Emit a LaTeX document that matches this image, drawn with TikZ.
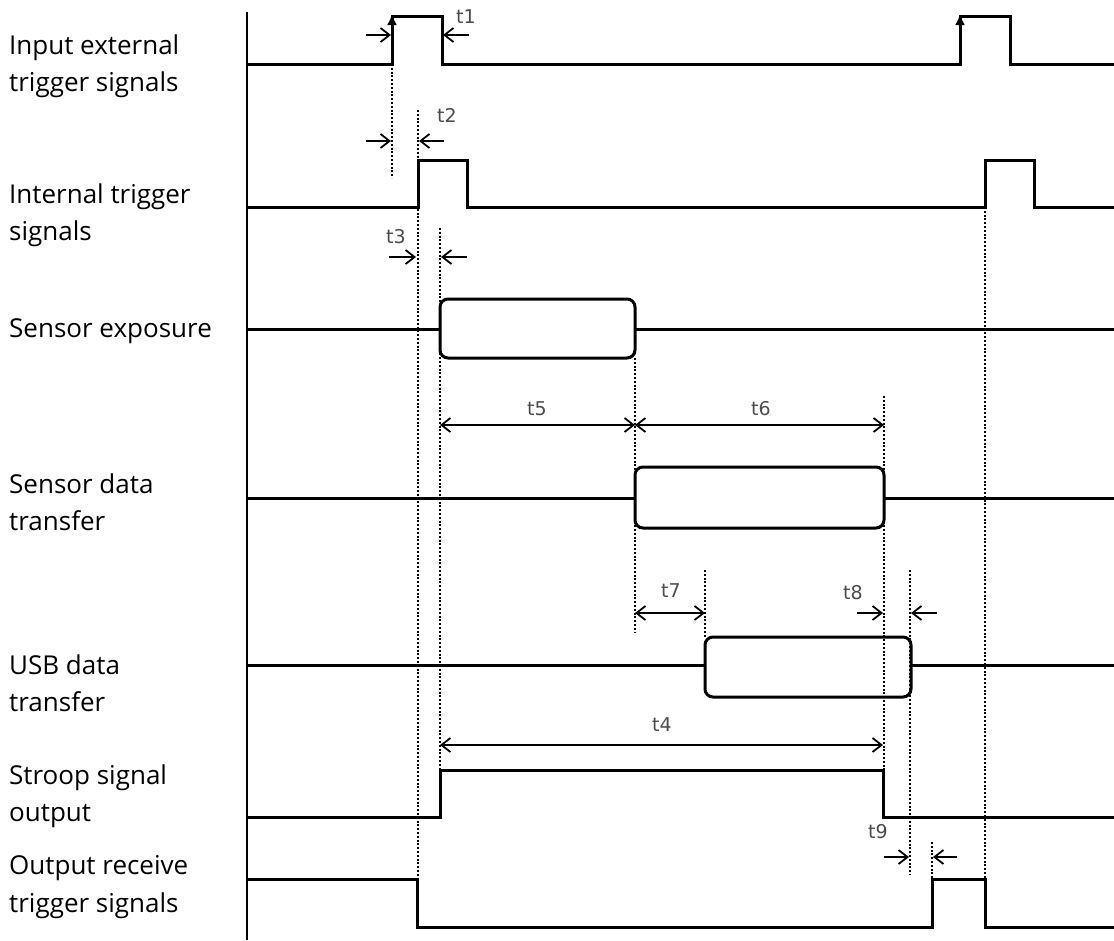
\documentclass[tikz,border=0pt]{standalone}
\usepackage{fontspec}
\setmainfont{Open Sans}
\newfontfamily\tfont{DejaVu Sans}
\usetikzlibrary{arrows.meta}
\begin{document}
\begin{tikzpicture}[x=1pt,y=-1pt,
  sig/.style={line width=3pt, line join=miter},
  boxsig/.style={line width=3pt, rounded corners=8pt},
  vdot/.style={line width=2.6pt, dash pattern=on 2pt off 1.8pt},
  tarrow/.style={line width=1.8pt, -{Straight Barb[length=9pt,width=14pt,line width=1.8pt]}},
  darrow/.style={line width=1.8pt, {Straight Barb[length=9pt,width=14pt,line width=1.8pt]}-{Straight Barb[length=9pt,width=14pt,line width=1.8pt]}},
  edgetip/.style={-{Latex[length=11pt,width=10pt]}, line width=3pt},
  siglabel/.style={anchor=west, align=left, inner sep=0pt, font=\fontsize{26}{37.5}\selectfont},
  tlabel/.style={inner sep=0pt, text=black!70, font=\tfont\fontsize{19}{22}\selectfont}]
\useasboundingbox (0,0) rectangle (1114,940);

% signal names
\node[siglabel] (l1) at (9,66) {Input external\\trigger signals};
\node[siglabel] (l2) at (9,215) {Internal trigger\\signals};
\node[siglabel] (l3) at (9,331) {Sensor exposure};
\node[siglabel] (l4) at (9,502) {Sensor data\\transfer};
\node[siglabel] (l5) at (9,683) {USB data\\transfer};
\node[siglabel] (l6) at (9,796) {Stroop signal\\output};
\node[siglabel] (l7) at (9,887) {Output receive\\trigger signals};

% axis
\draw[line width=2.8pt] (247,12) -- (247,940);

% dotted guides
\draw[vdot] (392,64) -- (392,178);
\draw[vdot] (418,110) -- (418,879);
\draw[vdot] (440,228) -- (440,770);
\draw[vdot] (635,358) -- (635,632);
\draw[vdot] (705,570) -- (705,637);
\draw[vdot] (884,396) -- (884,770);
\draw[vdot] (910,570) -- (910,875);
\draw[vdot] (932,842) -- (932,879);
\draw[vdot] (985,207) -- (985,879);

% 1 input external trigger
\draw[sig] (247,64) -- (392,64) -- (392,16) -- (442,16) -- (442,64) -- (960,64) -- (960,16) -- (1010,16) -- (1010,64) -- (1114,64);
\draw[edgetip] (392,34) -- (392,14);
\draw[edgetip] (960,34) -- (960,14);

% 2 internal trigger
\draw[sig] (247,207) -- (418,207) -- (418,160) -- (467,160) -- (467,207) -- (985,207) -- (985,160) -- (1034,160) -- (1034,207) -- (1114,207);

% 3 sensor exposure
\draw[sig] (247,329) -- (440,329);
\draw[boxsig] (440,299) rectangle (635,358);
\draw[sig] (635,329) -- (1114,329);

% 4 sensor data transfer
\draw[sig] (247,498) -- (635,498);
\draw[boxsig] (635,467) rectangle (884,528);
\draw[sig] (884,498) -- (1114,498);

% 5 USB data transfer
\draw[sig] (247,665) -- (705,665);
\draw[boxsig] (705,637) rectangle (911,697);
\draw[sig] (911,665) -- (1114,665);

% 6 stroop signal output
\draw[sig] (247,817) -- (440,817) -- (440,770) -- (883,770) -- (883,817) -- (1114,817);

% 7 output receive trigger
\draw[sig] (247,879) -- (417,879) -- (417,927) -- (932,927) -- (932,879) -- (985,879) -- (985,927) -- (1114,927);

% timing marks
\draw[tarrow] (366,35) -- (391,35);
\draw[tarrow] (469,35) -- (443,35);
\node[tlabel] (t1) at (466,17) {t1};

\draw[tarrow] (366,141) -- (391,141);
\draw[tarrow] (444,141) -- (419,141);
\node[tlabel] (t2) at (447,115) {t2};

\draw[tarrow] (389,257) -- (416,257);
\draw[tarrow] (467,257) -- (441,257);
\node[tlabel] (t3) at (396,237) {t3};

\draw[darrow] (440,425) -- (635,425);
\node[tlabel] (t5) at (537,409) {t5};
\draw[darrow] (635,425) -- (884,425);
\node[tlabel] (t6) at (761,409) {t6};

\draw[darrow] (635,613) -- (705,613);
\node[tlabel] (t7) at (671,591) {t7};
\draw[tarrow] (857,613) -- (883,613);
\draw[tarrow] (937,613) -- (911,613);
\node[tlabel] (t8) at (853,593) {t8};

\draw[darrow] (440,745) -- (883,745);
\node[tlabel] (t4) at (662,725) {t4};

\draw[tarrow] (884,857) -- (909,857);
\draw[tarrow] (957,857) -- (933,857);
\node[tlabel] (t9) at (878,832) {t9};
\end{tikzpicture}
\end{document}
